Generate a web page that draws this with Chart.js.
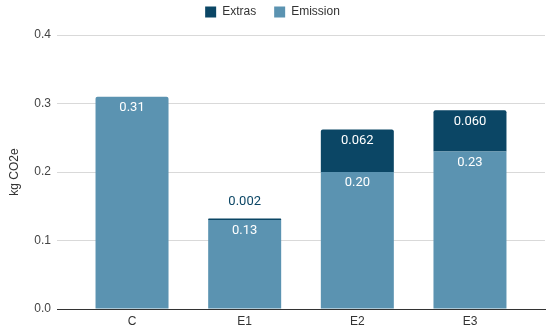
<!DOCTYPE html>
<html>
<head>
<meta charset="utf-8">
<script src="https://cdn.jsdelivr.net/npm/chart.js@4"></script>
<style>
  html, body { margin: 0; padding: 0; background: #fff; }
  #wrap { width: 550px; height: 329px; }
</style>
</head>
<body>
<div id="wrap"><canvas id="chart" width="550" height="329"></canvas></div>
<script>
/* kg CO2e per case: emission + extras, stacked */
const categories = ['C', 'E1', 'E2', 'E3'];
const emission   = [0.31, 0.13, 0.20, 0.23];
const extras     = [0, 0.002, 0.062, 0.060];
const yTicks     = [0, 0.1, 0.2, 0.3, 0.4];

const COL_EMISSION = '#5b93b1';
const COL_EXTRAS   = '#0b4665';
const FONT = "'Liberation Sans', Arial, sans-serif";

const toPoints = arr => arr.map((v, i) => ({ x: i, y: v }));

// labels: inside the top of each segment, or above it when the segment is too thin
const barLabels = {
  id: 'barLabels',
  afterDatasetsDraw(chart) {
    const ctx = chart.ctx;
    ctx.save();
    ctx.font = "13px Roboto, sans-serif";
    ctx.textAlign = 'center';
    ctx.textBaseline = 'middle';
    chart.data.datasets.forEach((ds, di) => {
      const meta = chart.getDatasetMeta(di);
      meta.data.forEach((bar, i) => {
        const v = ds.data[i].y;
        if (!v) return;
        const txt = v.toFixed(ds.decimals);
        const h = Math.abs(bar.base - bar.y);
        if (h < 16) {
          ctx.fillStyle = ds.backgroundColor;
          ctx.fillText(txt, bar.x, bar.y - 17);
        } else {
          ctx.fillStyle = '#ffffff';
          ctx.fillText(txt, bar.x, bar.y + 11);
        }
      });
    });
    ctx.restore();
  }
};

// a bit of extra room between the legend and the plot
const legendGap = {
  id: 'legendGap',
  beforeLayout(chart) {
    const lg = chart.legend;
    if (lg && !lg._gapPatched) {
      const fit = lg.fit;
      lg.fit = function () { fit.call(this); this.height += 7; };
      lg._gapPatched = true;
    }
  }
};

new Chart(document.getElementById('chart'), {
  type: 'bar',
  data: {
    datasets: [
      { label: 'Emission', data: toPoints(emission), backgroundColor: COL_EMISSION, decimals: 2,
        borderRadius: 2, borderSkipped: 'start' },
      { label: 'Extras',   data: toPoints(extras),   backgroundColor: COL_EXTRAS,   decimals: 3,
        borderRadius: 2, borderSkipped: 'start' }
    ]
  },
  options: {
    responsive: false,
    animation: false,
    devicePixelRatio: 1,
    layout: { padding: { left: 0, right: 5, top: 0, bottom: 0 } },
    datasets: { bar: { barPercentage: 1, categoryPercentage: 0.648 } },
    plugins: {
      legend: {
        position: 'top',
        reverse: true,
        labels: {
          boxWidth: 11, boxHeight: 11, padding: 6, color: '#333', font: { family: FONT, size: 12 },
          // wider gap between the two entries without a taller legend
          generateLabels: chart => Chart.defaults.plugins.legend.labels.generateLabels(chart)
            .map(l => (l.text === 'Extras' ? { ...l, text: l.text + '\u2003' } : l))
        }
      },
      tooltip: { enabled: false }
    },
    scales: {
      x: {
        type: 'linear',
        stacked: true,
        offset: false,
        min: -0.666, max: 3.666,
        afterBuildTicks: s => { s.ticks = categories.map((c, i) => ({ value: i })); },
        afterFit: s => { s.height = 20; },
        grid: { display: false, drawTicks: false },
        border: { display: true, color: '#333', width: 1 },
        ticks: { callback: v => categories[v] ?? '', color: '#333', padding: 5, font: { family: FONT, size: 12 } }
      },
      y: {
        stacked: true,
        min: 0, max: 0.4,
        afterBuildTicks: s => { s.ticks = yTicks.map(v => ({ value: v })); },
        afterFit: s => { s.width = 57; },
        grid: { color: '#d9d9d9', drawTicks: false },
        border: { display: false },
        title: { display: true, text: 'kg CO2e', color: '#333', padding: { top: 7, bottom: 4 }, font: { family: FONT, size: 12 } },
        ticks: { callback: v => v.toFixed(1), color: '#444', padding: 6, font: { family: FONT, size: 12 } }
      }
    }
  },
  plugins: [barLabels, legendGap]
});
</script>
</body>
</html>
